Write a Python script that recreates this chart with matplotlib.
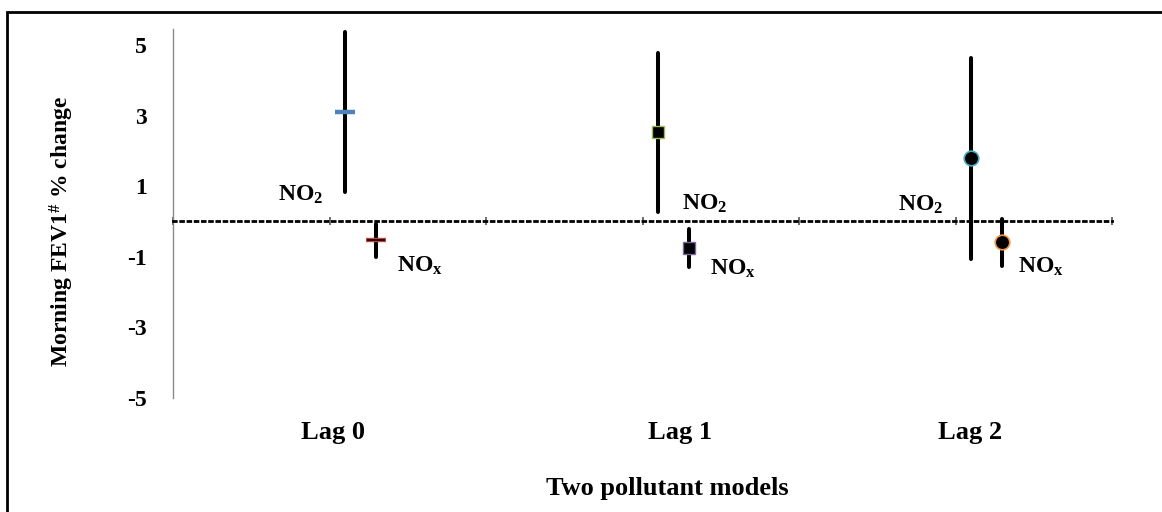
import numpy as np
import matplotlib
matplotlib.use("Agg")
import matplotlib.pyplot as plt
import matplotlib.transforms as mtransforms
from matplotlib.patches import Rectangle

plt.rcParams["font.family"] = ["Liberation Serif", "DejaVu Serif"]
plt.rcParams["font.weight"] = "bold"
plt.rcParams["mathtext.default"] = "regular"

# values (% change with CI)
lags = ["Lag 0", "Lag 1", "Lag 2"]
no2_est = [3.11, 2.52, 1.79]
no2_lo = [0.83, 0.27, -1.06]
no2_hi = [5.37, 4.77, 4.63]
nox_est = [-0.52, -0.75, -0.59]
nox_lo = [-1.00, -1.29, -1.25]
nox_hi = [-0.07, -0.21, 0.07]
yticks = [-5, -3, -1, 1, 3, 5]

# marker style per lag (Excel defaults-ish)
no2_markers = [("_", "#4f81bd", "#4f81bd"), ("s", "black", "#9bbb59"), ("o", "black", "#4bacc6")]
nox_markers = [("_", "#9b2d2a", "#c0504d"), ("s", "black", "#8064a2"), ("o", "black", "#f79646")]

fig = plt.figure(figsize=(11.62, 5.12), dpi=100)
ax = fig.add_axes([173 / 1162, 1 - 398 / 512, (1112 - 173) / 1162, (398 - 29) / 512])

centers = np.arange(len(lags)) * 2 + 1
x_no2 = centers + 0.1
x_nox = centers + 0.3

ax.vlines(x_no2, no2_lo, no2_hi, color="black", lw=2.9, capstyle="round", zorder=3)
ax.vlines(x_nox, nox_lo, nox_hi, color="black", lw=2.9, capstyle="round", zorder=3)

for i in range(len(lags)):
    for xs, ys, st in ((x_no2, no2_est, no2_markers[i]), (x_nox, nox_est, nox_markers[i])):
        m, fc, ec = st
        if m == "_":
            ax.plot(xs[i], ys[i], marker="_", ms=14, mew=3.2, color=ec, zorder=4)
            if ec != fc:
                ax.plot(xs[i], ys[i], marker="_", ms=12.5, mew=1.5, color="#2a0a0a", zorder=5)
        elif m == "s":
            ax.plot(xs[i], ys[i], marker="s", ms=9, mfc=fc, mec=ec, mew=1, zorder=4)
        else:
            ax.plot(xs[i], ys[i], marker="o", ms=10.5, mfc=fc, mec=ec, mew=1.2, zorder=4)

# NO2 / NOx labels
no2_txt_dx = [-0.43, 0.15, -0.47]
no2_txt_y = [0.58, 0.33, 0.30]
nox_txt_dx = [0.13, 0.13, 0.10]
nox_txt_y = [-1.42, -1.50, -1.45]
for i in range(len(lags)):
    ax.text(x_no2[i] + no2_txt_dx[i], no2_txt_y[i], r"NO$_2$", fontsize=17,
            ha="left", va="baseline", zorder=6)
    ax.text(x_nox[i] + nox_txt_dx[i], nox_txt_y[i], r"NO$_x$", fontsize=17,
            ha="left", va="baseline", zorder=6)

ax.set_xlim(0, 6)
ax.set_ylim(-4.94, 5.45)
ax.set_yticks(yticks)
ax.set_yticklabels([str(v) for v in yticks], fontsize=17, fontweight="bold")
ax.tick_params(axis="y", length=0, pad=19)
ax.set_xticks(range(7))
ax.tick_params(axis="x", direction="inout", length=6, width=1.2, color="#555555",
               labelbottom=False)

for s in ("top", "right"):
    ax.spines[s].set_visible(False)
ax.spines["left"].set_color("#8a8a8a")
ax.spines["left"].set_linewidth(1.0)
ax.spines["bottom"].set_position(("data", 0))
ax.spines["bottom"].set_linestyle((0, (1, 1.6)))
ax.spines["bottom"].set_linewidth(2.0)
ax.spines["bottom"].set_color("black")

# category labels under the plot
lab_dx = [0.02, 0.24, 0.09]
trans = mtransforms.blended_transform_factory(ax.transData, fig.transFigure)
for i, lab in enumerate(lags):
    ax.text(centers[i] + lab_dx[i], 1 - 432 / 512, lab, transform=trans,
            fontsize=19, ha="center", va="center", clip_on=False)

fig.text(667 / 1162, 1 - 488 / 512, "Two pollutant models", fontsize=19,
         ha="center", va="center")
fig.text(62 / 1162, 1 - 232 / 512, r"Morning FEV1$^{\#}$ % change", fontsize=17,
         rotation=90, ha="center", va="center")

# outer frame (only left and top edges fall inside the picture)
fig.add_artist(Rectangle((7 / 1162, -0.2), 1.5, 1.2 - 12 / 512, transform=fig.transFigure,
                         fill=False, lw=2.0, edgecolor="black"))

fig.savefig("out.png", dpi=100)
